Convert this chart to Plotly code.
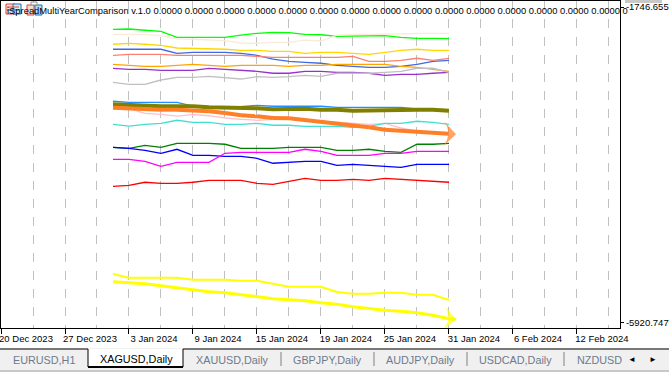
import plotly.graph_objects as go

# bar index of each daily point
bars = list(range(7, 29))
tip_bar = 28.44

tick_bars = [0, 4, 8, 12, 16, 20, 24, 28, 32, 36]
tick_labels = ["20 Dec 2023", "27 Dec 2023", "3 Jan 2024", "9 Jan 2024", "15 Jan 2024",
               "19 Jan 2024", "25 Jan 2024", "31 Jan 2024", "6 Feb 2024", "12 Feb 2024"]
y_ticks = [-1746.655, -5920.747]
y_tick_labels = ["-1746.655", "-5920.7470"]

lime = [-2041,-2037,-2054,-2068,-2147,-2147,-2147,-2147,-2117,-2094,-2081,-2086,-2107,-2113,-2134,-2134,-2134,-2126,-2147,-2160,-2160,-2165]
linen = [-2107,-2107,-2107,-2126,-2169,-2173,-2179,-2192,-2222,-2226,-2213,-2213,-2183,-2196,-2117,-2107,-2107,-2107,-2103,-2094,-2094,-2094]
gold = [-2239,-2226,-2239,-2253,-2288,-2292,-2292,-2305,-2319,-2319,-2332,-2332,-2358,-2345,-2345,-2358,-2372,-2345,-2319,-2305,-2319,-2319]
royal = [-2305,-2305,-2305,-2305,-2358,-2345,-2345,-2345,-2358,-2385,-2434,-2464,-2477,-2490,-2517,-2530,-2543,-2543,-2530,-2504,-2464,-2451]
salmon = [-2385,-2372,-2372,-2372,-2385,-2385,-2385,-2385,-2385,-2398,-2411,-2411,-2411,-2411,-2411,-2398,-2464,-2464,-2451,-2424,-2451,-2424]
orange = [-2504,-2517,-2530,-2530,-2517,-2504,-2517,-2530,-2517,-2517,-2517,-2530,-2517,-2517,-2504,-2504,-2504,-2504,-2530,-2543,-2570,-2596]
purple = [-2557,-2570,-2570,-2583,-2583,-2583,-2557,-2570,-2583,-2596,-2622,-2622,-2596,-2596,-2609,-2609,-2622,-2649,-2636,-2636,-2622,-2609]
silver = [-2741,-2768,-2768,-2711,-2675,-2675,-2662,-2675,-2698,-2667,-2675,-2667,-2649,-2662,-2622,-2622,-2622,-2609,-2596,-2556,-2556,-2609]
dodger = [-2992,-3006,-3006,-3006,-3006,-3055,-3088,-3081,-3061,-3045,-3058,-3058,-3058,-3058,-3072,-3072,-3072,-3072,-3072,-3094,-3107,-3107]
olive = [-3032,-3045,-3045,-3058,-3058,-3058,-3072,-3072,-3072,-3085,-3098,-3090,-3090,-3103,-3103,-3117,-3117,-3117,-3107,-3103,-3103,-3117]
pink = [-3077,-3090,-3151,-3164,-3187,-3169,-3183,-3213,-3230,-3243,-3230,-3226,-3239,-3253,-3262,-3283,-3296,-3283,-3345,-3385,-3407,-3424]
spread_orange = [-3077,-3090,-3094,-3103,-3103,-3111,-3124,-3147,-3177,-3191,-3213,-3217,-3239,-3262,-3283,-3315,-3336,-3368,-3381,-3389,-3407,-3424,-3428]
turquoise = [-3296,-3319,-3296,-3283,-3243,-3270,-3270,-3296,-3296,-3283,-3309,-3309,-3323,-3323,-3323,-3336,-3323,-3283,-3283,-3256,-3270,-3296]
green = [-3600,-3613,-3574,-3600,-3547,-3547,-3547,-3560,-3613,-3613,-3613,-3600,-3600,-3600,-3640,-3640,-3626,-3653,-3666,-3560,-3560,-3547]
blue = [-3600,-3613,-3640,-3679,-3626,-3706,-3706,-3719,-3719,-3745,-3811,-3798,-3785,-3785,-3838,-3825,-3838,-3851,-3864,-3825,-3825,-3825]
magenta = [-3759,-3759,-3785,-3851,-3798,-3798,-3798,-3679,-3666,-3666,-3666,-3666,-3626,-3653,-3706,-3706,-3706,-3679,-3679,-3653,-3653,-3653]
red = [-4115,-4102,-4062,-4076,-4076,-4062,-4036,-4036,-4036,-4076,-4089,-4049,-4010,-4036,-4036,-4023,-4036,-4010,-4023,-4036,-4049,-4062]
yellow_thin = [-5274,-5323,-5323,-5323,-5323,-5349,-5349,-5349,-5362,-5362,-5402,-5442,-5442,-5442,-5512,-5534,-5534,-5521,-5521,-5547,-5547,-5617]
yellow_thick = [-5376,-5389,-5402,-5428,-5455,-5481,-5508,-5521,-5547,-5574,-5600,-5613,-5626,-5653,-5674,-5706,-5732,-5753,-5766,-5786,-5819,-5864,-5872]

thin_series = [
    (lime, "#00ff00"), (linen, "#faebd7"), (gold, "#ffd700"), (royal, "#4169e1"),
    (salmon, "#fa8072"), (orange, "#ffa500"), (purple, "#9932cc"), (silver, "#c0c0c0"),
    (dodger, "#1e90ff"), (pink, "#ffc0cb"), (turquoise, "#40e0d0"), (green, "#008000"),
    (blue, "#0000ff"), (magenta, "#ff00ff"), (red, "#ff0000"),
]

FONT = "Liberation Sans"
fig = go.Figure()
for vals, col in thin_series:
    fig.add_trace(go.Scatter(x=bars, y=vals, mode="lines", line=dict(color=col, width=1.3), hoverinfo="skip"))
fig.add_trace(go.Scatter(x=bars, y=olive, mode="lines", line=dict(color="#808000", width=4), hoverinfo="skip"))
fig.add_trace(go.Scatter(x=bars, y=yellow_thin, mode="lines", line=dict(color="#ffff00", width=2), hoverinfo="skip"))

for vals, col in [(spread_orange, "#ff7f27"), (yellow_thick, "#ffff00")]:
    xs = bars + [tip_bar]
    fig.add_trace(go.Scatter(
        x=xs, y=vals, mode="lines+markers", line=dict(color=col, width=4 if col != "#ffff00" else 3),
        marker=dict(symbol=["circle"] * (len(xs) - 1) + ["arrow-wide"],
                    size=[0] * (len(xs) - 1) + [19], angleref="previous", color=col, line=dict(width=0)),
        hoverinfo="skip"))

shapes = []
W, H = 669, 372
L, R, T, B = 1, 620, 1, 328
def px(x): return (x - L) / (R - L)
def py(y): return (B - y) / (B - T)
def box(x0, y0, x1, y1, fill=None, line=None, w=1):
    d = dict(type="rect", xref="paper", yref="paper", x0=px(x0), x1=px(x1), y0=py(y0), y1=py(y1),
             layer="above", line=dict(width=w if line else 0, color=line or "rgba(0,0,0,0)"))
    if fill: d["fillcolor"] = fill
    shapes.append(d)
def seg(x0, y0, x1, y1, col, w=1):
    shapes.append(dict(type="line", xref="paper", yref="paper", x0=px(x0), x1=px(x1), y0=py(y0), y1=py(y1),
                       layer="above", line=dict(color=col, width=w)))

annotations = []
def text(x, y, s, col="#000000", size=11, anchor="left"):
    annotations.append(dict(x=px(x), y=py(y), xref="paper", yref="paper", text=s, showarrow=False,
                            xanchor=anchor, yanchor="middle", font=dict(family=FONT, size=size, color=col)))

# tab strip
box(0, 348, 669, 372, "#f0f0f0")
seg(0, 349, 88, 349, "#000000", 1)
seg(183, 349, 669, 349, "#000000", 1)
box(88, 349, 183, 367, "#ffffff")
seg(88, 349, 88, 367, "#000000", 1)
seg(183, 349, 183, 367, "#000000", 1)
seg(88, 367, 183, 367, "#000000", 2)
seg(0, 371, 669, 371, "#a0a0a0", 1)
for x in [281, 374, 467, 564]:
    seg(x, 352, x, 366, "#808080", 1)
# corner gray
box(625, 0, 662, 3, "#c8c8c8")

# the small chart icons over the title
text(5, 10.5, "iSpreadMultiYearComparison v.1.0 " + " ".join(["0.0000"] * 15) + " 0", size=9.4)
box(6, 4, 15, 14, "#fbe0dc", "#d9473a", 1)
box(13, 4, 21, 14, "#d8ecf8", "#1c6fb5", 1)
seg(7, 7, 19, 7, "#d9473a", 1)
seg(7, 10, 19, 10, "#1c6fb5", 1)
box(27, 5, 34, 15, "#fbd9cc", "#d9473a", 1)
box(35, 5, 42, 15, "#b7dcf4", "#1c6fb5", 1)
box(31, 2, 37, 5, "#ffffff", "#909090", 1)

tab_col = "#6d7a8c"
TAB = 10.8
text(44, 360, "EURUSD,H1", tab_col, TAB, "center")
text(136, 359, "XAGUSD,Daily", "#000000", TAB, "center")
text(232, 360, "XAUUSD,Daily", tab_col, TAB, "center")
text(327, 360, "GBPJPY,Daily", tab_col, TAB, "center")
text(421, 360, "AUDJPY,Daily", tab_col, TAB, "center")
text(515, 360, "USDCAD,Daily", tab_col, TAB, "center")
text(575, 360, "NZDUSD", tab_col, TAB, "left")
text(632, 359, "◄", "#000000", 8, "center")
text(653, 359, "►", "#000000", 8, "center")

fig.update_layout(
    width=W, height=H, autosize=False, showlegend=False,
    margin=dict(l=L, r=W - R, t=T, b=H - B, pad=0),
    paper_bgcolor="#ffffff", plot_bgcolor="#ffffff",
    font=dict(family=FONT, size=9.5, color="#000000"),
    shapes=shapes, annotations=annotations,
    xaxis=dict(range=[0, 38.69], tickmode="array", tickvals=tick_bars, ticktext=tick_labels, tickangle=0,
               ticks="outside", ticklen=5, tickcolor="#000000", ticklabelshift=25, ticklabelstandoff=-3,
               ticklabeloverflow="allow", automargin=False,
               showgrid=True, gridcolor="#c0c0c0", griddash="dash", gridwidth=1,
               minor=dict(dtick=2, tick0=0, showgrid=True, gridcolor="#c0c0c0", griddash="dash", gridwidth=1, ticks=""),
               showline=True, mirror=True, linecolor="#000000", linewidth=1, zeroline=False),
    yaxis=dict(range=[-5987, -1667.4], side="right", tickmode="array", tickvals=y_ticks, ticktext=y_tick_labels,
               ticks="outside", ticklen=3, tickcolor="#000000", showgrid=False, zeroline=False, automargin=False,
               showline=True, mirror=True, linecolor="#000000", linewidth=1, ticklabeloverflow="allow"),
)
fig.write_html("out.html", config={"displayModeBar": False},
               post_script="document.body.style.margin='0';document.body.style.overflow='hidden';")
